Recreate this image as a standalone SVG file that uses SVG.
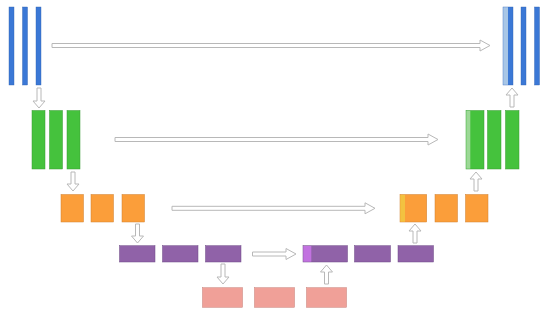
<svg xmlns="http://www.w3.org/2000/svg" width="550" height="315" viewBox="0 0 550 315">
<style>
.b{fill:#3b78d6;stroke:#2f62b0;stroke-width:0.4}
.bl{fill:#a8c6e6;stroke:none}
.g{fill:#45c23d;stroke:#3a9a35;stroke-width:0.5}
.gl{fill:#9cd896;stroke:none}
.o{fill:#fb9e3a;stroke:#d08030;stroke-width:0.5}
.ol{fill:#f2c240;stroke:none}
.p{fill:#9062a8;stroke:#6e4a86;stroke-width:0.5}
.pl{fill:#c272e0;stroke:none}
.k{fill:#f0a098;stroke:#c88078;stroke-width:0.5}
.a{fill:#ffffff;stroke:#b8b8b8;stroke-width:1}
</style>
<rect width="550" height="315" fill="#ffffff"/>
<g id="enc1">
<rect class="b" x="9" y="7" width="5" height="78"/>
<rect class="b" x="22.5" y="7" width="5" height="78"/>
<rect class="b" x="36" y="7" width="5" height="78"/>
</g>
<g id="enc2">
<rect class="g" x="32" y="110.5" width="13" height="58.5"/>
<rect class="g" x="49.5" y="110.5" width="13" height="58.5"/>
<rect class="g" x="67" y="110.5" width="13" height="58.5"/>
</g>
<g id="enc3">
<rect class="o" x="61" y="194.5" width="22.5" height="27.5"/>
<rect class="o" x="91" y="194.5" width="22.5" height="27.5"/>
<rect class="o" x="122" y="194.5" width="22.5" height="27.5"/>
</g>
<g id="enc4">
<rect class="p" x="119.5" y="245.7" width="35.5" height="16.3"/>
<rect class="p" x="162.5" y="245.7" width="35.5" height="16.3"/>
<rect class="p" x="205.5" y="245.7" width="35.5" height="16.3"/>
</g>
<g id="bottleneck">
<rect class="k" x="202.5" y="287.7" width="40" height="19.6"/>
<rect class="k" x="254.5" y="287.7" width="40" height="19.6"/>
<rect class="k" x="306.5" y="287.7" width="40" height="19.6"/>
</g>
<g id="dec4">
<rect class="p" x="303" y="245.7" width="44.5" height="16.3"/>
<rect class="pl" x="303.3" y="246" width="8" height="15.7"/>
<rect class="p" x="354.5" y="245.7" width="36" height="16.3"/>
<rect class="p" x="398" y="245.7" width="35.5" height="16.3"/>
</g>
<g id="dec3">
<rect class="o" x="400" y="194.5" width="26.7" height="27.5"/>
<rect class="ol" x="400.3" y="194.8" width="4.7" height="26.9"/>
<rect class="o" x="435" y="194.5" width="22.5" height="27.5"/>
<rect class="o" x="465.5" y="194.5" width="22.5" height="27.5"/>
</g>
<g id="dec2">
<rect class="g" x="466" y="110.5" width="18" height="58.5"/>
<rect class="gl" x="466.3" y="110.8" width="4" height="57.9"/>
<rect class="g" x="487.5" y="110.5" width="13.5" height="58.5"/>
<rect class="g" x="505.5" y="110.5" width="13.5" height="58.5"/>
</g>
<g id="dec1">
<rect class="b" x="503" y="7" width="10" height="78"/>
<rect class="bl" x="503.2" y="7.2" width="4.8" height="77.6"/>
<rect class="b" x="521" y="7" width="5" height="78"/>
<rect class="b" x="534.5" y="7" width="5" height="78"/>
</g>
<g id="connectors">
<path class="a" d="M52,43.5 H480 V40 L490,45.5 L480,51 V47.5 H52 Z"/>
<path class="a" d="M115,137.5 H428 V134 L438,139.5 L428,145 V141.5 H115 Z"/>
<path class="a" d="M172,206.3 H365 V202.8 L375,208.3 L365,213.8 V210.3 H172 Z"/>
<path class="a" d="M252.5,252 H286 V248.5 L296,254 L286,259.5 V256 H252.5 Z"/>
<path class="a" d="M37,88 V101 H33 L39,108 L45,101 H41 V88 Z"/>
<path class="a" d="M71,172 V184 H67 L73,191 L79,184 H75 V172 Z"/>
<path class="a" d="M135.5,224 V236 H131.5 L137.5,243 L143.5,236 H139.5 V224 Z"/>
<path class="a" d="M221,264 V277 H217 L223,284 L229,277 H225 V264 Z"/>
<path class="a" d="M324.5,284 V272 H320.5 L326.5,265 L332.5,272 H328.5 V284 Z"/>
<path class="a" d="M413,243 V231 H409 L415,224 L421,231 H417 V243 Z"/>
<path class="a" d="M474,191 V179 H470 L476,172 L482,179 H478 V191 Z"/>
<path class="a" d="M510,107 V95 H506 L512,88 L518,95 H514 V107 Z"/>
</g>
</svg>
